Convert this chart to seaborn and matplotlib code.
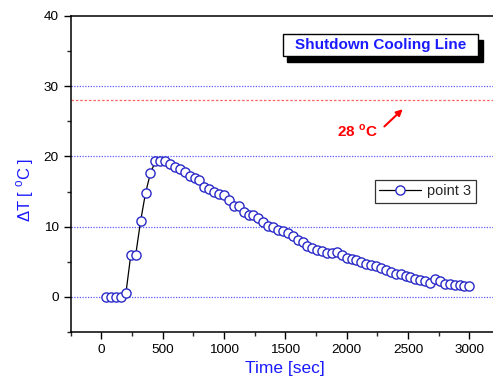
import matplotlib
matplotlib.use("Agg")
import matplotlib.pyplot as plt
import seaborn as sns
import pandas as pd
from matplotlib.patches import Rectangle

time_sec = [40, 80, 120, 160, 200, 240, 280, 320, 360, 400,
            440, 480, 520, 560, 600, 640, 680, 720, 760, 800,
            840, 880, 920, 960, 1000, 1040, 1080, 1120, 1160, 1200,
            1240, 1280, 1320, 1360, 1400, 1440, 1480, 1520, 1560, 1600,
            1640, 1680, 1720, 1760, 1800, 1840, 1880, 1920, 1960, 2000,
            2040, 2080, 2120, 2160, 2200, 2240, 2280, 2320, 2360, 2400,
            2440, 2480, 2520, 2560, 2600, 2640, 2680, 2720, 2760, 2800,
            2840, 2880, 2920, 2960, 3000]
delta_t = [0.0, 0.0, 0.0, 0.0, 0.5, 6.0, 6.0, 10.8, 14.8, 17.6,
           19.3, 19.4, 19.3, 18.9, 18.5, 18.2, 17.8, 17.2, 16.9, 16.6,
           15.7, 15.4, 14.9, 14.7, 14.5, 13.8, 12.9, 13.0, 12.1, 11.6,
           11.7, 11.2, 10.6, 10.1, 10.0, 9.5, 9.4, 9.1, 8.6, 8.1,
           7.8, 7.2, 6.9, 6.7, 6.6, 6.3, 6.2, 6.4, 5.9, 5.6,
           5.4, 5.2, 4.9, 4.7, 4.5, 4.4, 4.1, 3.9, 3.6, 3.3,
           3.2, 3.0, 2.8, 2.6, 2.4, 2.2, 2.0, 2.6, 2.2, 1.9,
           1.8, 1.7, 1.7, 1.6, 1.5]
series_name = "point 3"
grid_levels = [0, 10, 20, 30]
limit_level = 28
x_ticks = [0, 500, 1000, 1500, 2000, 2500, 3000]
y_ticks = [0, 10, 20, 30, 40]
title_text = "Shutdown Cooling Line"
limit_text = "28 $^\\mathregular{o}$C"

df = pd.DataFrame({"Time": time_sec, "dT": delta_t, "series": series_name})

sns.set_style("ticks")
plt.rcParams['font.family'] = ['Liberation Sans', 'DejaVu Sans']
plt.rcParams['mathtext.fontset'] = 'custom'
plt.rcParams['mathtext.rm'] = 'Liberation Sans'
plt.rcParams['mathtext.bf'] = 'Liberation Sans:bold'

W, H = 493, 389
fig = plt.figure(figsize=(W / 100, H / 100), dpi=100)
ax = fig.add_axes([70.7 / W, 57 / H, 429.3 / W, 316 / H])

for g in grid_levels:
    ax.axhline(g, color="#5a5aff", linestyle=(0, (1, 1.2)), linewidth=0.9, zorder=1)
ax.axhline(limit_level, color="#ff6060", linestyle=(0, (2, 1.5)), linewidth=0.9, zorder=1)

sns.lineplot(data=df, x="Time", y="dT", hue="series", palette=["black"],
             marker="o", markersize=6.6, markerfacecolor="white",
             markeredgecolor="#2a2ac8", markeredgewidth=1.0,
             linewidth=0.9, ax=ax, zorder=3)

ax.set_xlim(-250, 3250)
ax.set_ylim(-5, 40)
ax.set_xticks(x_ticks)
ax.set_yticks(y_ticks)
ax.set_xticks([-250, 250, 750, 1250, 1750, 2250, 2750, 3250], minor=True)
ax.set_yticks([-5, 5, 15, 25, 35], minor=True)
ax.tick_params(which="major", length=5, width=1.0, labelsize=9.7, colors="black", direction="out")
ax.tick_params(which="minor", length=3, width=1.0, direction="out")

for s in ["left", "bottom", "top"]:
    ax.spines[s].set_visible(True)
    ax.spines[s].set_linewidth(1.1)
    ax.spines[s].set_color("black")
ax.spines["right"].set_visible(False)

ax.set_xlabel("Time [sec]", color="#1a1aff", fontsize=12.5, labelpad=4)
ax.set_ylabel("\u0394T [ $^\\mathregular{o}$C ]", color="#1a1aff", fontsize=12)
ax.yaxis.set_label_coords(-0.08, 0.449)

leg = ax.legend(loc="upper right", bbox_to_anchor=(0.943, 0.481), borderaxespad=0,
                fontsize=10.5, frameon=True, fancybox=False, handlelength=2.9,
                borderpad=0.3, handletextpad=0.4)
leg.get_frame().set_edgecolor("black")
leg.get_frame().set_linewidth(0.9)
for t in leg.get_texts():
    t.set_text(series_name)

# title box with drop shadow (pixel layout converted to figure fraction)
bx0, bx1, by0, by1 = 282.7, 478.3, 34.3, 56.0
off = 4.5
fig.add_artist(Rectangle(((bx0 + off) / W, 1 - (by1 + off + 1) / H), (bx1 - bx0) / W, (by1 - by0) / H,
                         transform=fig.transFigure, facecolor="black", edgecolor="black", zorder=6))
fig.add_artist(Rectangle((bx0 / W, 1 - by1 / H), (bx1 - bx0) / W, (by1 - by0) / H,
                         transform=fig.transFigure, facecolor="white", edgecolor="black",
                         linewidth=1.0, zorder=7))
fig.text((bx0 + bx1) / 2 / W, 1 - (by0 + by1) / 2 / H, title_text, fontsize=11, fontweight="bold",
         color="#1a1aff", ha="center", va="center", zorder=8)

ax.annotate("", xy=(2473, 27.0), xytext=(2291, 24.0),
            arrowprops=dict(arrowstyle="-|>", color="red", lw=1.5, mutation_scale=9), zorder=5)
ax.text(2255, 23.6, limit_text, color="red", fontsize=11, fontweight="bold", ha="right", va="center")

fig.savefig("out.png", dpi=100)
